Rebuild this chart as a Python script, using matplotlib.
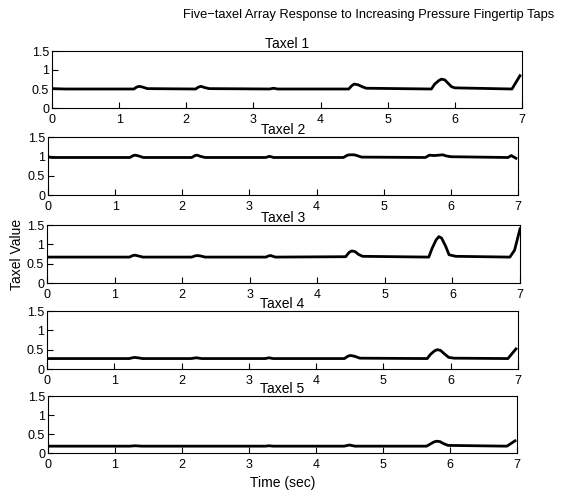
import matplotlib
matplotlib.use('Agg')
import matplotlib.pyplot as plt

plt.rcParams['font.family'] = ['Liberation Sans', 'DejaVu Sans']

# Values (time in sec, taxel value)
t1 = [0, 0.2, 1.22, 1.26, 1.3, 1.35, 1.42, 2.14, 2.18, 2.22, 2.27, 2.34, 3.24, 3.3, 3.36,
      4.42, 4.46, 4.5, 4.56, 4.62, 4.68, 5.65, 5.7, 5.76, 5.8, 5.85, 5.9, 5.95, 6.0, 6.85, 6.97]
v1 = [0.51, 0.5, 0.5, 0.55, 0.57, 0.55, 0.51, 0.5, 0.55, 0.57, 0.54, 0.51, 0.5, 0.52, 0.5,
      0.5, 0.58, 0.63, 0.61, 0.56, 0.52, 0.5, 0.63, 0.72, 0.76, 0.74, 0.65, 0.56, 0.53, 0.5, 0.85]

t2 = [0, 0.05, 1.22, 1.27, 1.3, 1.35, 1.42, 2.14, 2.19, 2.22, 2.27, 2.34, 3.24, 3.3, 3.36,
      4.4, 4.46, 4.5, 4.56, 4.6, 4.67, 5.62, 5.68, 5.75, 5.82, 5.88, 5.93, 6.0, 6.85, 6.9, 6.97]
v2 = [0.99, 0.97, 0.97, 1.02, 1.03, 1.01, 0.97, 0.97, 1.02, 1.03, 1.0, 0.97, 0.97, 1.0, 0.97,
      0.97, 1.03, 1.04, 1.04, 1.02, 0.98, 0.97, 1.03, 1.02, 1.03, 1.04, 1.01, 0.99, 0.97, 1.02, 0.95]

t3 = [0, 1.22, 1.27, 1.3, 1.35, 1.42, 2.14, 2.19, 2.22, 2.27, 2.34, 3.24, 3.28, 3.31, 3.38,
      4.42, 4.47, 4.51, 4.56, 4.61, 4.67, 5.65, 5.7, 5.76, 5.8, 5.84, 5.9, 5.95, 6.05, 6.85, 6.92, 7.0]
v3 = [0.67, 0.67, 0.71, 0.72, 0.7, 0.67, 0.67, 0.7, 0.71, 0.7, 0.67, 0.67, 0.7, 0.71, 0.67,
      0.68, 0.79, 0.83, 0.81, 0.74, 0.69, 0.67, 0.9, 1.12, 1.2, 1.16, 0.95, 0.73, 0.69, 0.67, 0.85, 1.4]

t4 = [0, 1.22, 1.27, 1.3, 1.35, 1.42, 2.14, 2.22, 2.3, 3.24, 3.3, 3.36,
      4.42, 4.47, 4.51, 4.57, 4.65, 5.65, 5.7, 5.76, 5.8, 5.85, 5.9, 5.97, 6.05, 6.85, 6.97]
v4 = [0.27, 0.27, 0.29, 0.3, 0.29, 0.27, 0.27, 0.29, 0.27, 0.27, 0.29, 0.27,
      0.27, 0.33, 0.35, 0.33, 0.28, 0.27, 0.38, 0.47, 0.5, 0.48, 0.4, 0.3, 0.28, 0.27, 0.52]

t5 = [0, 1.22, 1.3, 1.4, 3.24, 3.3, 3.36, 4.42, 4.5, 4.58,
      5.65, 5.7, 5.76, 5.8, 5.85, 5.9, 5.97, 6.85, 6.97]
v5 = [0.18, 0.18, 0.19, 0.18, 0.18, 0.19, 0.18, 0.18, 0.21, 0.18,
      0.18, 0.23, 0.29, 0.31, 0.3, 0.25, 0.2, 0.18, 0.32]

times = [t1, t2, t3, t4, t5]
values = [v1, v2, v3, v4, v5]
titles = ['Taxel 1', 'Taxel 2', 'Taxel 3', 'Taxel 4', 'Taxel 5']
yticks = [0, 0.5, 1, 1.5]
yticklabels = ['0', '0.5', '1', '1.5']
xticks = [0, 1, 2, 3, 4, 5, 6, 7]

W, H = 577, 494
fig = plt.figure(figsize=(W / 100, H / 100), dpi=100)

# pixel boxes (left, top, right, bottom) of each subplot
boxes = [(52, 51, 522, 108), (48, 137, 518, 195), (47, 225, 520, 283),
         (47, 311, 518, 369), (48, 396, 517, 453)]

for i in range(5):
    l, t, r, b = boxes[i]
    ax = fig.add_axes([l / W, 1 - b / H, (r - l) / W, (b - t) / H])
    ax.plot(times[i], values[i], color='black', linewidth=2.0,
            solid_joinstyle='round')
    ax.set_xlim(0, 7)
    ax.set_ylim(0, 1.5)
    ax.set_yticks(yticks)
    ax.set_yticklabels(yticklabels)
    ax.set_xticks(xticks)
    ax.tick_params(axis='x', direction='in', length=4, width=0.8, labelsize=9, pad=4,
                   top=False)
    ax.tick_params(axis='y', direction='in', length=4, width=0.8, labelsize=9, pad=2,
                   right=False)
    for s in ax.spines.values():
        s.set_linewidth(0.8)
    ax.set_title(titles[i], fontsize=10, pad=1)
    if i == 4:
        ax.set_xlabel('Time (sec)', fontsize=10, labelpad=4)

fig.text(17 / W, 1 - 254 / H, 'Taxel Value', rotation=90, fontsize=10,
         ha='center', va='center')
fig.text(369 / W, 1 - 15 / H,
         'Five\u2212taxel Array Response to Increasing Pressure Fingertip Taps',
         fontsize=9.3, ha='center', va='center')

fig.savefig('out.png', dpi=100)
